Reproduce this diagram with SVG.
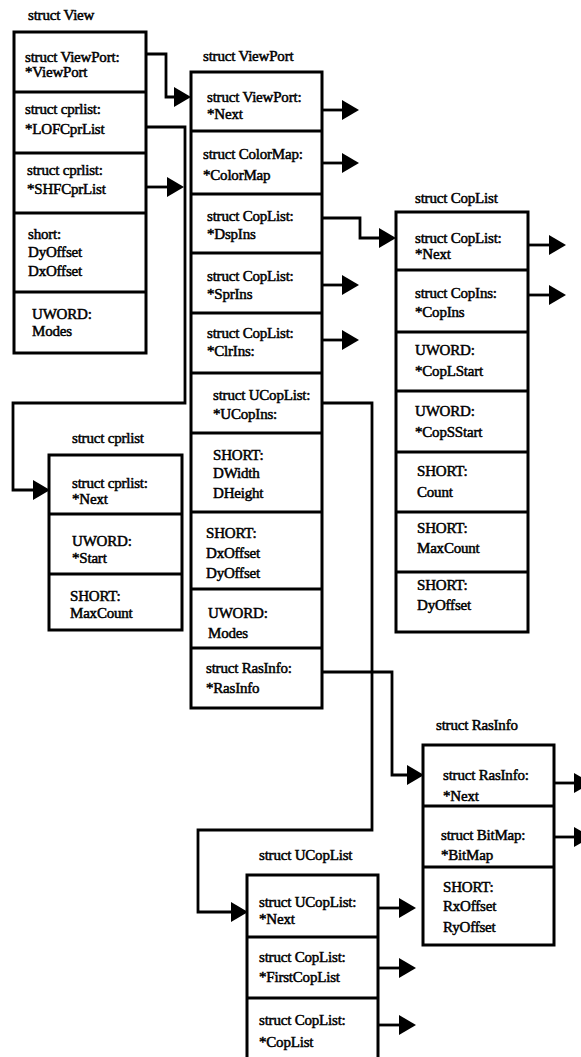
<svg xmlns="http://www.w3.org/2000/svg" width="581" height="1057" viewBox="0 0 581 1057">
<style>
  text { font-family: "Liberation Serif", "Times New Roman", serif; font-size: 15px; fill: #000; stroke: #000; stroke-width: 0.5px; letter-spacing: -0.2px; }
  .box { fill: #fff; stroke: #000; stroke-width: 3; }
  .div { stroke: #000; stroke-width: 2.8; fill: none; }
  .conn { fill: none; stroke: #000; stroke-width: 2.8; marker-end: url(#ah); }
</style>
<defs>
  <marker id="ah" markerUnits="userSpaceOnUse" viewBox="0 0 17 20" refX="6" refY="10" markerWidth="17" markerHeight="20" orient="auto">
    <path d="M0 0 L17 10 L0 20 Z" fill="#000"/>
  </marker>
</defs>
<rect width="581" height="1057" fill="#fff"/>

<g id="connectors">
  <path class="conn" d="M146 54 H166 V97 H180"/>
  <path class="conn" d="M146 127 H185 V403 H13 V490 H39"/>
  <path class="conn" d="M146 187 H173"/>
  <path class="conn" d="M322 110 H348"/>
  <path class="conn" d="M322 163 H348"/>
  <path class="conn" d="M322 218 H360 V238 H385"/>
  <path class="conn" d="M322 285 H348"/>
  <path class="conn" d="M322 340 H348"/>
  <path class="conn" d="M322 403 H372 V830 H198 V912 H237"/>
  <path class="conn" d="M322 672 H392 V775 H413"/>
  <path class="conn" d="M528 245 H555"/>
  <path class="conn" d="M528 295 H555"/>
  <path class="conn" d="M554 783 H580"/>
  <path class="conn" d="M554 837 H580"/>
  <path class="conn" d="M378 908 H405"/>
  <path class="conn" d="M378 968 H405"/>
  <path class="conn" d="M378 1025 H405"/>
</g>

<g id="view">
  <text x="28" y="20">struct View</text>
  <rect class="box" x="14" y="32" width="132" height="321"/>
  <path class="div" d="M14 92 H146 M14 153 H146 M14 213 H146 M14 292 H146"/>
  <text x="25" y="62">struct ViewPort:</text>
  <text x="25" y="77">*ViewPort</text>
  <text x="25" y="114">struct cprlist:</text>
  <text x="25" y="134">*LOFCprList</text>
  <text x="27" y="175">struct cprlist:</text>
  <text x="27" y="194">*SHFCprList</text>
  <text x="28" y="239">short:</text>
  <text x="28" y="257">DyOffset</text>
  <text x="28" y="276">DxOffset</text>
  <text x="32" y="319">UWORD:</text>
  <text x="32" y="336">Modes</text>
</g>

<g id="viewport">
  <text x="203" y="61">struct ViewPort</text>
  <rect class="box" x="191" y="72" width="131" height="636"/>
  <path class="div" d="M191 131 H322 M191 194 H322 M191 253 H322 M191 313 H322 M191 373 H322 M191 433 H322 M191 512 H322 M191 589 H322 M191 648 H322"/>
  <text x="207" y="102">struct ViewPort:</text>
  <text x="207" y="119">*Next</text>
  <text x="203" y="159">struct ColorMap:</text>
  <text x="203" y="180">*ColorMap</text>
  <text x="207" y="221">struct CopList:</text>
  <text x="207" y="239">*DspIns</text>
  <text x="207" y="281">struct CopList:</text>
  <text x="207" y="299">*SprIns</text>
  <text x="207" y="338">struct CopList:</text>
  <text x="207" y="356">*ClrIns:</text>
  <text x="213" y="400">struct UCopList:</text>
  <text x="213" y="419">*UCopIns:</text>
  <text x="213" y="460">SHORT:</text>
  <text x="213" y="478">DWidth</text>
  <text x="213" y="498">DHeight</text>
  <text x="206" y="538">SHORT:</text>
  <text x="206" y="558">DxOffset</text>
  <text x="206" y="578">DyOffset</text>
  <text x="208" y="618">UWORD:</text>
  <text x="208" y="638">Modes</text>
  <text x="206" y="673">struct RasInfo:</text>
  <text x="206" y="693">*RasInfo</text>
</g>

<g id="coplist">
  <text x="415" y="203">struct CopList</text>
  <rect class="box" x="396" y="212" width="132" height="420"/>
  <path class="div" d="M396 270 H528 M396 332 H528 M396 391 H528 M396 452 H528 M396 512 H528 M396 572 H528"/>
  <text x="415" y="243">struct CopList:</text>
  <text x="415" y="259">*Next</text>
  <text x="415" y="298">struct CopIns:</text>
  <text x="415" y="317">*CopIns</text>
  <text x="415" y="355">UWORD:</text>
  <text x="415" y="376">*CopLStart</text>
  <text x="415" y="416">UWORD:</text>
  <text x="415" y="437">*CopSStart</text>
  <text x="417" y="476">SHORT:</text>
  <text x="417" y="497">Count</text>
  <text x="417" y="533">SHORT:</text>
  <text x="417" y="553">MaxCount</text>
  <text x="417" y="590">SHORT:</text>
  <text x="417" y="610">DyOffset</text>
</g>

<g id="cprlist">
  <text x="72" y="443">struct cprlist</text>
  <rect class="box" x="49" y="455" width="133" height="175"/>
  <path class="div" d="M49 514 H182 M49 574 H182"/>
  <text x="72" y="488">struct cprlist:</text>
  <text x="72" y="504">*Next</text>
  <text x="72" y="546">UWORD:</text>
  <text x="72" y="563">*Start</text>
  <text x="70" y="601">SHORT:</text>
  <text x="70" y="618">MaxCount</text>
</g>

<g id="rasinfo">
  <text x="436" y="730">struct RasInfo</text>
  <rect class="box" x="423" y="745" width="131" height="200"/>
  <path class="div" d="M423 806 H554 M423 867 H554"/>
  <text x="443" y="780">struct RasInfo:</text>
  <text x="443" y="801">*Next</text>
  <text x="441" y="840">struct BitMap:</text>
  <text x="441" y="860">*BitMap</text>
  <text x="443" y="892">SHORT:</text>
  <text x="443" y="911">RxOffset</text>
  <text x="443" y="932">RyOffset</text>
</g>

<g id="ucoplist">
  <text x="259" y="860">struct UCopList</text>
  <rect class="box" x="247" y="875" width="131" height="190"/>
  <path class="div" d="M247 937 H378 M247 998 H378"/>
  <text x="259" y="907">struct UCopList:</text>
  <text x="259" y="924">*Next</text>
  <text x="259" y="962">struct CopList:</text>
  <text x="259" y="982">*FirstCopList</text>
  <text x="259" y="1025">struct CopList:</text>
  <text x="259" y="1047">*CopList</text>
</g>
</svg>
